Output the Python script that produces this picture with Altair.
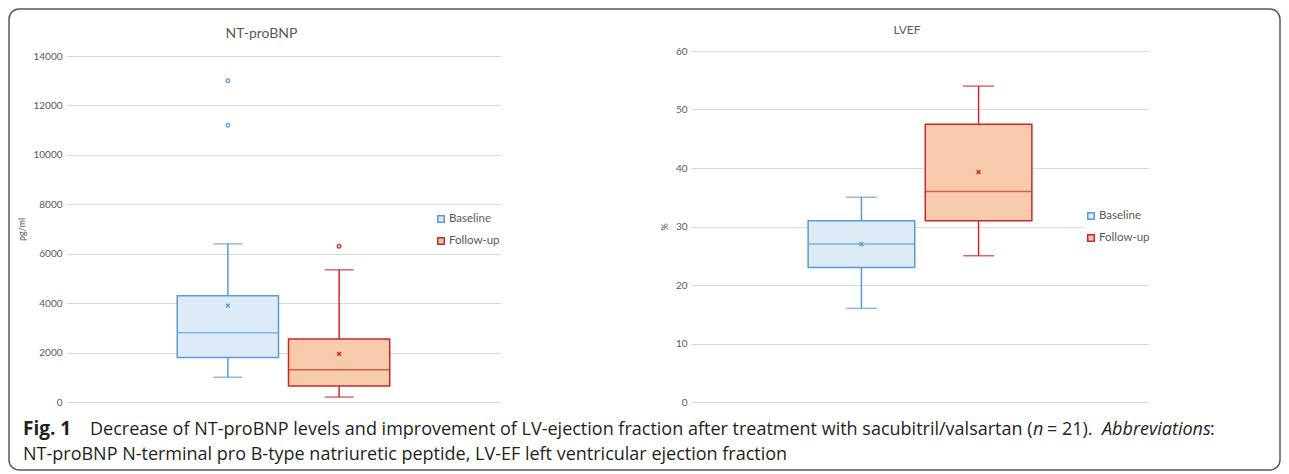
import altair as alt
import pandas as pd

# ---------------- data ----------------
series = ["Baseline", "Follow-up"]
stroke_colors = ["#5B9BD5", "#C8282C"]
fill_colors = ["#DDEBF7", "#F8CBAD"]

# NT-proBNP (pg/ml)
bnp_low = [1000, 200]
bnp_q1 = [1800, 650]
bnp_median = [2800, 1300]
bnp_q3 = [4300, 2550]
bnp_high = [6400, 5350]
bnp_mean = [3900, 1950]
bnp_outlier_series = ["Baseline", "Baseline", "Follow-up"]
bnp_outlier_values = [13000, 11200, 6300]
bnp_ticks = [0, 2000, 4000, 6000, 8000, 10000, 12000, 14000]

# LVEF (%)
ef_low = [16, 25]
ef_q1 = [23, 31]
ef_median = [27, 36]
ef_q3 = [31, 47.5]
ef_high = [35, 54]
ef_mean = [27, 39.3]
ef_outlier_series = []
ef_outlier_values = []
ef_ticks = [0, 10, 20, 30, 40, 50, 60]

title_left = "NT-proBNP"
ytitle_left = "pg/ml"
title_right = "LVEF"
ytitle_right = "%"

caption_fig = "Fig. 1"
caption_l1a = ("Decrease of NT-proBNP levels and improvement of LV-ejection fraction "
               "after treatment with sacubitril/valsartan (")
caption_n = "n"
caption_l1b = "= 21)."
caption_abbr = "Abbreviations"
caption_colon = ":"
caption_l2 = ("NT-proBNP N-terminal pro B-type natriuretic peptide, "
              "LV-EF left ventricular ejection fraction")

GRAY = "#595959"
FONT = "Lato"
CAP_FONT = "Open Sans"
CAP_COLOR = "#231F20"
X_SHAPE = "M-1,-1L1,1M1,-1L-1,1"


def box_panel(low, q1, med, q3, high, mean, out_s, out_v, ticks, ymax,
              width, height, yrange, box_w, cap_w, ytitle, title,
              legend_x, legend_y):
    df = pd.DataFrame({"series": series, "low": low, "q1": q1, "median": med,
                       "q3": q3, "high": high, "mean": mean})
    odf = pd.DataFrame({"series": pd.Series(out_s, dtype=object),
                        "value": pd.Series(out_v, dtype=float)})
    xenc = alt.X("series:N",
                 scale=alt.Scale(domain=series, paddingInner=0.09, paddingOuter=1.0),
                 axis=None)
    sc_kwargs = dict(domain=[0, ymax], nice=False)
    if yrange is not None:
        sc_kwargs["range"] = yrange
    yscale = alt.Scale(**sc_kwargs)
    yaxis = alt.Axis(values=ticks, format="d", title=ytitle, grid=True,
                     gridColor="#D9D9D9", gridWidth=1, domain=False, ticks=False,
                     labelFont=FONT, labelFontSize=10, labelColor=GRAY,
                     labelPadding=4, titleFont=FONT, titleFontSize=9,
                     titleColor=GRAY, titleFontWeight="normal", titlePadding=6)

    def Y(field):
        return alt.Y(field, type="quantitative", scale=yscale, axis=yaxis)

    color = alt.Color("series:N", scale=alt.Scale(domain=series, range=stroke_colors),
                      legend=None)
    fill = alt.Fill("series:N", scale=alt.Scale(domain=series, range=fill_colors),
                    legend=None)
    stroke = alt.Stroke("series:N",
                        scale=alt.Scale(domain=series, range=stroke_colors),
                        legend=None)

    base = alt.Chart(df)
    whisker = base.mark_rule(strokeWidth=1.5).encode(
        x=xenc, y=Y("low"), y2="high:Q", color=color)
    cap_lo = base.mark_tick(size=cap_w, thickness=1.5).encode(
        x=xenc, y=Y("low"), color=color)
    cap_hi = base.mark_tick(size=cap_w, thickness=1.5).encode(
        x=xenc, y=Y("high"), color=color)
    box = base.mark_bar(strokeWidth=1.5).encode(
        x=xenc, y=Y("q1"), y2="q3:Q", fill=fill, stroke=stroke)
    median = base.mark_tick(size=box_w, thickness=1.5).encode(
        x=xenc, y=Y("median"), color=color)
    meanpt = base.mark_point(shape=X_SHAPE, filled=False, strokeWidth=1.5,
                             size=14, opacity=1).encode(
        x=xenc, y=Y("mean"), color=color)
    layers = [whisker, cap_lo, cap_hi, box, median, meanpt]
    if len(odf):
        outl = alt.Chart(odf).mark_point(shape="circle", size=14, strokeWidth=1.2,
                                         opacity=1).encode(
            x=xenc, y=Y("value"), fill=fill, stroke=stroke)
        layers.append(outl)

    # legend (white box, then one swatch + label per series, coloured by the scales)
    layers.append(alt.Chart(pd.DataFrame({"k": [0]})).mark_rect(color="white").encode(
        x=alt.value(legend_x - 8), x2=alt.value(legend_x + 62),
        y=alt.value(legend_y - 10), y2=alt.value(legend_y + 32)))
    for i, s in enumerate(series):
        row = base.transform_filter(alt.datum.series == s)
        layers.append(row.mark_square(size=42, strokeWidth=1.5, opacity=1).encode(
            x=alt.value(legend_x), y=alt.value(legend_y + 22 * i),
            fill=fill, stroke=stroke))
        layers.append(row.mark_text(align="left", baseline="middle", font=FONT,
                                    fontSize=11.5, color=GRAY).encode(
            x=alt.value(legend_x + 8), y=alt.value(legend_y + 22 * i),
            text="series:N"))
    return alt.layer(*layers).properties(width=width, height=height, title=title)


left = box_panel(bnp_low, bnp_q1, bnp_median, bnp_q3, bnp_high, bnp_mean,
                 bnp_outlier_series, bnp_outlier_values, bnp_ticks, 14000,
                 435, 351, [351, 5], 101, 29, ytitle_left,
                 alt.TitleParams(title_left, font=FONT, fontSize=14,
                                 fontWeight="normal", color=GRAY, anchor="middle",
                                 frame="group", dx=-22, offset=10),
                 375, 168)

right = box_panel(ef_low, ef_q1, ef_median, ef_q3, ef_high, ef_mean,
                  ef_outlier_series, ef_outlier_values, ef_ticks, 60,
                  458, 351, None, 106, 31, ytitle_right,
                  alt.TitleParams(title_right, font=FONT, fontSize=12,
                                  fontWeight="normal", color=GRAY, anchor="middle",
                                  frame="group", dx=-13, offset=9),
                  400, 165)

# caption (with the decorative figure frame, drawn relative to the caption cell)
cap_base = alt.Chart(pd.DataFrame({"k": [0]}))


def cap_text(txt, x, y, weight="normal", style="normal", size=18):
    return cap_base.mark_text(align="left", baseline="alphabetic", font=CAP_FONT,
                              fontSize=size, fontWeight=weight, fontStyle=style,
                              color=CAP_COLOR).encode(
        x=alt.value(x), y=alt.value(y), text=alt.value(txt))


frame = cap_base.mark_rect(
    fillOpacity=0, stroke="#5A5A5A", strokeWidth=1.5, cornerRadius=10
).encode(x=alt.value(-57), x2=alt.value(1214), y=alt.value(-398), y2=alt.value(63))

caption = alt.layer(
    frame,
    cap_text(caption_fig, -43, 28, weight="bold", size=19),
    cap_text(caption_l1a, 24, 28),
    cap_text(caption_n, 967, 28, style="italic"),
    cap_text(caption_l1b, 981, 28),
    cap_text(caption_abbr, 1036, 28, style="italic"),
    cap_text(caption_colon, 1144, 28),
    cap_text(caption_l2, -43, 53),
).properties(width=435, height=50)

chart = alt.concat(left, right, caption, columns=2, spacing={"row": 5, "column": 190},
                   bounds="flush", align="each").properties(
    padding={"left": 0, "top": 0, "right": 0, "bottom": 0}, background="white"
).configure_view(strokeWidth=0, stroke="transparent")

chart.save("out.html", embed_options={"renderer": "svg", "actions": False})
